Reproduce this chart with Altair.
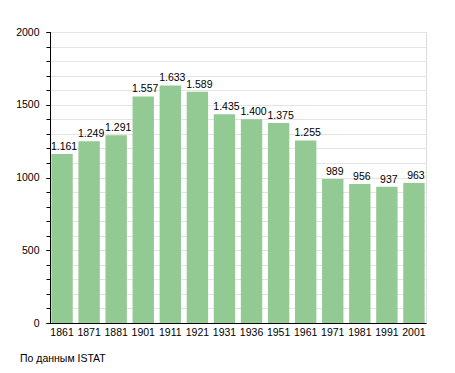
import altair as alt
import pandas as pd

years = ["1861", "1871", "1881", "1901", "1911", "1921", "1931", "1936", "1951", "1961", "1971", "1981", "1991", "2001"]
population = [1161, 1249, 1291, 1557, 1633, 1589, 1435, 1400, 1375, 1255, 989, 956, 937, 963]
labels = ["1.161", "1.249", "1.291", "1.557", "1.633", "1.589", "1.435", "1.400", "1.375", "1.255", "989", "956", "937", "963"]
source_note = ["По данным  ISTAT"]
major_ticks = [0, 500, 1000, 1500, 2000]
minor_ticks = list(range(0, 2001, 100))

df = pd.DataFrame({"year": years, "pop": population, "label": labels})
note_df = pd.DataFrame({"t": source_note})

FONT = "Liberation Sans"
FS = 10.5
yscale = alt.Scale(domain=[0, 2000], nice=False)
xenc = alt.X("year:N", sort=years, title=None,
             scale=alt.Scale(paddingInner=0.21, paddingOuter=0.05),
             axis=alt.Axis(labelAngle=0, ticks=False, domainColor="black", labelColor="black",
                           labelFont=FONT, labelFontSize=FS, labelPadding=4, grid=False))

minor = alt.Chart(df).mark_bar(color="#93C993", opacity=0).encode(
    x=xenc,
    y=alt.Y("pop:Q", title=None, scale=yscale,
            axis=alt.Axis(values=minor_ticks, labels=False, tickSize=4, tickColor="black",
                          domainColor="black", gridColor="#e4e4e4", orient="left")))
bars = alt.Chart(df).mark_bar(color="#93C993").encode(
    x=alt.X("year:N", sort=years),
    y=alt.Y("pop:Q", title=None, scale=yscale,
            axis=alt.Axis(values=major_ticks, format="d", tickSize=4, tickColor="black", domainColor="black",
                          labelColor="black", labelFont=FONT, labelFontSize=FS, labelPadding=7,
                          labelOverlap=False, gridColor="#a8a8a8", orient="left")))
text = alt.Chart(df).mark_text(baseline="bottom", dy=-2, dx=2, font=FONT, fontSize=FS, color="black").encode(
    x=alt.X("year:N", sort=years), y=alt.Y("pop:Q", axis=None), text="label:N")
note = alt.Chart(note_df).mark_text(align="left", baseline="middle", font=FONT, fontSize=FS, color="black").encode(
    x=alt.value(-30), y=alt.value(327), text="t:N")

chart = alt.layer(minor, bars, text, note).resolve_axis(y="independent").properties(
    width=376, height=291,
    autosize=alt.AutoSizeParams(type="none"),
    padding={"left": 42, "top": 24, "right": 21, "bottom": 50},
).configure_view(stroke=None).configure(background="white")

chart.save("out.html", embed_options={"renderer": "svg", "actions": False})
